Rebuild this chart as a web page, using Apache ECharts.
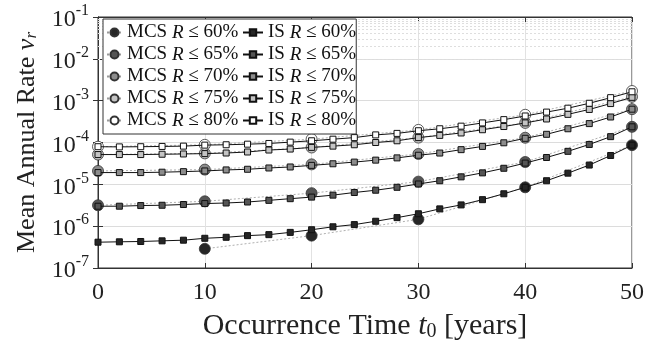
<!DOCTYPE html>
<html><head><meta charset="utf-8">
<script src="https://cdn.jsdelivr.net/npm/echarts@6/dist/echarts.min.js"></script>
<style>html,body{margin:0;padding:0;background:#fff}#c{width:669px;height:347px}</style>
</head><body><div id="c"></div>
<script>
// ---- data ----
const isT = [0,2,4,6,8,10,12,14,16,18,20,22,24,26,28,30,32,34,36,38,40,42,44,46,48,50];
const mcsT = [0,10,20,30,40,50];
const is60 = [4.14e-7,4.23e-7,4.30e-7,4.46e-7,4.62e-7,5.13e-7,5.42e-7,5.94e-7,6.27e-7,7.10e-7,8.21e-7,9.66e-7,1.09e-6,1.31e-6,1.60e-6,1.98e-6,2.59e-6,3.22e-6,4.30e-6,5.95e-6,8.49e-6,1.22e-5,1.85e-5,2.89e-5,4.89e-5,8.65e-5];
const is65 = [3.00e-6,3.00e-6,3.11e-6,3.16e-6,3.29e-6,3.47e-6,3.58e-6,3.78e-6,4.14e-6,4.54e-6,4.95e-6,5.52e-6,6.38e-6,7.23e-6,8.49e-6,1.02e-5,1.22e-5,1.51e-5,1.88e-5,2.42e-5,3.22e-5,4.38e-5,6.15e-5,8.98e-5,1.38e-4,2.37e-4];
const is70 = [1.91e-5,1.91e-5,1.91e-5,1.95e-5,2.01e-5,2.09e-5,2.21e-5,2.29e-5,2.46e-5,2.60e-5,2.84e-5,3.10e-5,3.40e-5,3.79e-5,4.29e-5,4.96e-5,5.6e-5,6.75e-5,8.06e-5,9.84e-5,1.26e-4,1.57e-4,2.13e-4,2.83e-4,4.07e-4,6.26e-4];
const is75 = [5.15e-5,5.15e-5,5.15e-5,5.24e-5,5.32e-5,5.43e-5,5.61e-5,5.93e-5,6.61e-5,6.97e-5,7.64e-5,8.19e-5,8.83e-5,1.0e-4,1.10e-4,1.31e-4,1.48e-4,1.69e-4,2.02e-4,2.41e-4,2.94e-4,3.65e-4,4.71e-4,6.17e-4,8.53e-4,1.20e-3];
const is80 = [7.93e-5,7.85e-5,7.93e-5,8.05e-5,8.19e-5,8.65e-5,8.83e-5,9.12e-5,9.48e-5,1.02e-4,1.10e-4,1.20e-4,1.31e-4,1.52e-4,1.65e-4,1.91e-4,2.13e-4,2.46e-4,2.94e-4,3.52e-4,4.30e-4,5.33e-4,6.61e-4,8.66e-4,1.18e-3,1.63e-3];
const mcs60 = [null,2.88e-7,5.94e-7,1.46e-6,8.5e-6,8.65e-5];
const mcs65 = [3.16e-6,3.93e-6,6.15e-6,1.16e-5,3.42e-5,2.37e-4];
const mcs70 = [2.09e-5,2.25e-5,3.0e-5,5.32e-5,1.3e-4,6.26e-4];
const mcs75 = [5.15e-5,5.5e-5,7.6e-5,1.31e-4,2.94e-4,1.24e-3];
const mcs80 = [7.93e-5,8.8e-5,1.2e-4,2.0e-4,4.6e-4,1.7e-3];
const levels = ['60%','65%','70%','75%','80%'];
const fills = ['#262626','#555555','#8c8c8c','#c4c4c4','#ffffff'];

const FONT = 'Liberation Serif';
const mcsSets = [mcs60,mcs65,mcs70,mcs75,mcs80];
const isSets = [is60,is65,is70,is75,is80];
const mcsNames = levels.map(l => 'MCS R ≤ ' + l);
const isNames = levels.map(l => 'IS R ≤ ' + l);

const minorVals = [];
for (let e = -7; e < -1; e++) for (let m = 2; m <= 9; m++) minorVals.push(m * Math.pow(10, e));

const series = [];
series.push({
  name: 'minor', type: 'line', data: [], z: 1, silent: true,
  markLine: { silent: true, symbol: 'none', animation: false, label: { show: false },
    lineStyle: { type: [2, 2], color: '#dedede', width: 1 },
    data: minorVals.map(v => ({ yAxis: v })) }
});
mcsSets.forEach((arr, i) => {
  series.push({
    name: mcsNames[i], type: 'line', z: 3 + i,
    data: mcsT.map((t, j) => [t, arr[j]]),
    symbol: 'circle', symbolSize: 11,
    itemStyle: { color: fills[i], borderColor: '#333', borderWidth: 0.8 },
    lineStyle: { color: '#9a9a9a', width: 0.8, type: [2, 2] },
    connectNulls: false, animation: false
  });
});
isSets.forEach((arr, i) => {
  series.push({
    name: isNames[i], type: 'line', z: 10 + i,
    data: isT.map((t, j) => [t, arr[j]]),
    symbol: 'rect', symbolSize: 6,
    itemStyle: { color: fills[i], borderColor: '#111', borderWidth: 1 },
    lineStyle: { color: '#111', width: 1 },
    animation: false
  });
});

const legendRich = {
  i: { fontStyle: 'italic', fontFamily: FONT, fontSize: 19, color: '#111', lineHeight: 19 },
  n: { fontFamily: FONT, fontSize: 19, color: '#111', lineHeight: 19 }
};
const legendFmt = name => { const p = name.split(' R '); return '{n|' + p[0] + ' }{i|R}{n| ' + p[1] + '}'; };

const chart = echarts.init(document.getElementById('c'));
chart.setOption({
  backgroundColor: '#fff',
  animation: false,
  grid: { left: 98, right: 37, top: 17, bottom: 74, show: true, borderColor: '#333', borderWidth: 1, backgroundColor: 'transparent' },
  legend: [
    { data: mcsNames, orient: 'vertical', left: 103, top: 19, itemWidth: 15, itemHeight: 10, itemGap: 3,
      padding: [4, 118, 4, 3], backgroundColor: '#fff', borderColor: '#333', borderWidth: 1, borderRadius: 0,
      formatter: legendFmt, textStyle: { rich: legendRich }, z: 20 },
    { data: isNames, orient: 'vertical', left: 239, top: 19, itemWidth: 20, itemHeight: 8, itemGap: 3,
      padding: [4, 4, 4, 3], formatter: legendFmt, textStyle: { rich: legendRich }, z: 21 }
  ],
  xAxis: [{
    type: 'value', min: 0, max: 50, interval: 10,
    axisLine: { lineStyle: { color: '#333' } },
    axisTick: { inside: true, length: 5, lineStyle: { color: '#333' } },
    axisLabel: { fontFamily: FONT, fontSize: 24, color: '#222', margin: 13 },
    splitLine: { show: true, lineStyle: { color: '#e2e2e2', width: 1 } },
    name: '{a|Occurrence Time }{t|t}{s|0}{a| [years]}', nameLocation: 'middle', nameGap: 43,
    nameTextStyle: { rich: {
      a: { fontFamily: FONT, fontSize: 30, color: '#222' },
      t: { fontFamily: FONT, fontSize: 30, fontStyle: 'italic', color: '#222' },
      s: { fontFamily: FONT, fontSize: 20, color: '#222', padding: [11, 0, 0, 0] } } }
  }, {
    type: 'value', position: 'top', min: 0, max: 50, interval: 10,
    axisLine: { show: true, lineStyle: { color: '#333' } },
    axisTick: { show: true, inside: true, length: 5, lineStyle: { color: '#333' } },
    axisLabel: { show: false }, splitLine: { show: false }
  }],
  yAxis: [{
    type: 'log', logBase: 10, min: 1e-7, max: 1e-1,
    axisLine: { show: true, lineStyle: { color: '#333' } },
    axisTick: { show: true, inside: true, length: 5, lineStyle: { color: '#333' } },
    axisLabel: { margin: 9,
      formatter: v => '{b|10}{s|' + Math.round(Math.log10(v)) + '}',
      rich: { b: { fontFamily: FONT, fontSize: 24, color: '#222', padding: [6, 0, 0, 0] },
              s: { fontFamily: FONT, fontSize: 16, color: '#222', padding: [0, 0, 12, 0] } } },
    splitLine: { show: true, lineStyle: { color: '#dcdcdc', width: 1 } },
    name: '{a|Mean Annual Rate }{v|ν}{r|r}', nameLocation: 'middle', nameGap: 58,
    nameTextStyle: { rich: {
      a: { fontFamily: FONT, fontSize: 26, color: '#222' },
      v: { fontFamily: FONT, fontSize: 26, fontStyle: 'italic', color: '#222' },
      r: { fontFamily: FONT, fontSize: 17, fontStyle: 'italic', color: '#222', padding: [9, 0, 0, 0] } } }
  }, {
    type: 'log', logBase: 10, min: 1e-7, max: 1e-1, position: 'right',
    axisLine: { show: true, lineStyle: { color: '#333' } },
    axisTick: { show: true, inside: true, length: 5, lineStyle: { color: '#333' } },
    axisLabel: { show: false }, splitLine: { show: false }
  }],
  series: series
});
</script>
</body></html>
